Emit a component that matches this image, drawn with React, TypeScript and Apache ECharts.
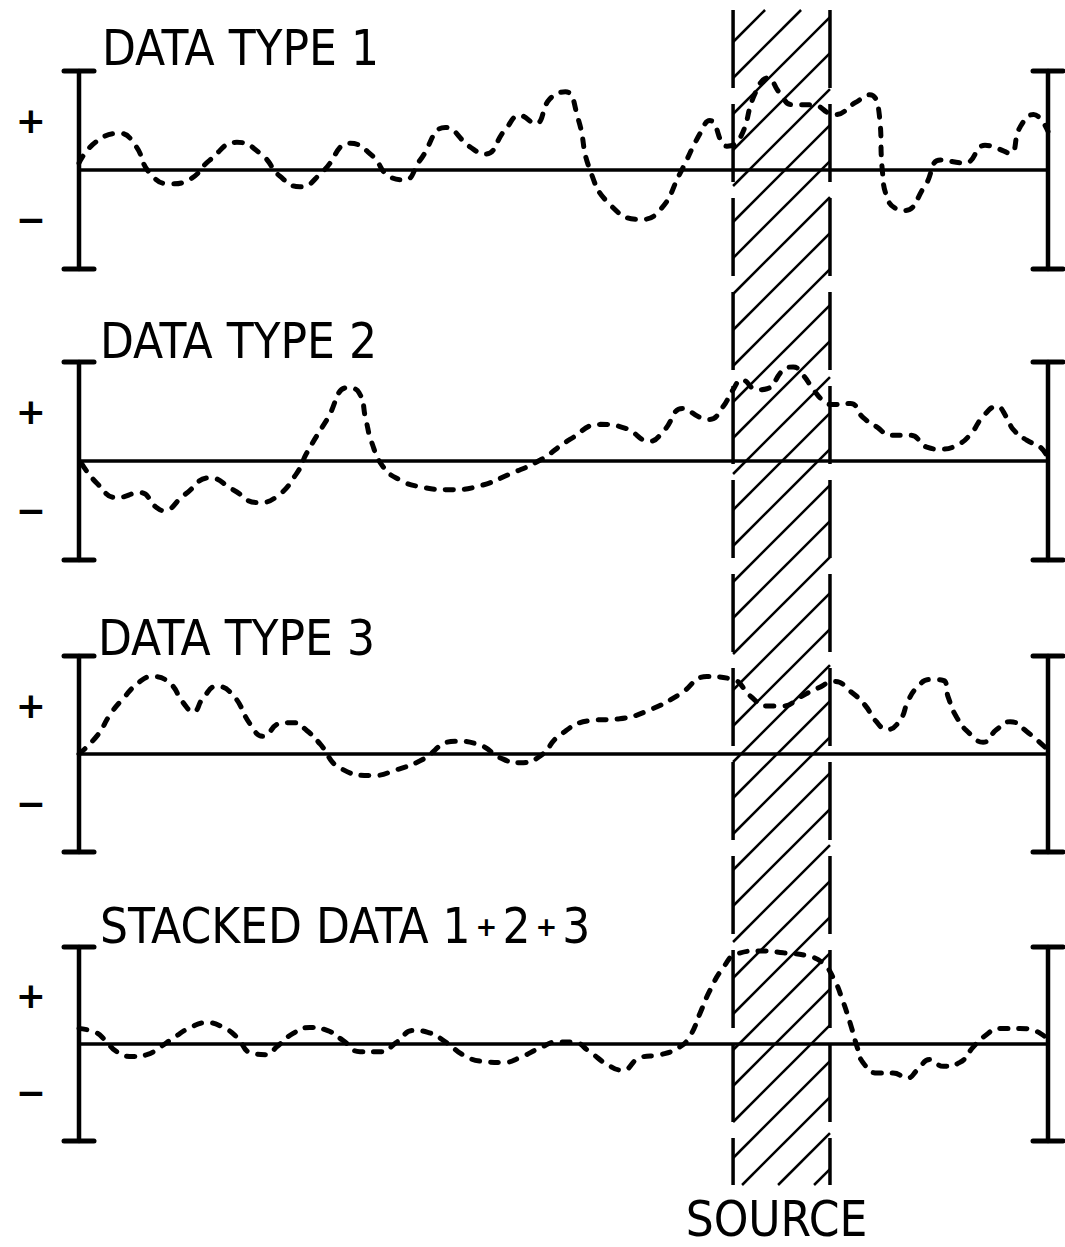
import React, { useEffect, useRef } from 'react';
import * as echarts from 'echarts';

// ---- data (position 0..100 along the profile, amplitude -1..1) ----
const panelTitles = ['DATA TYPE 1', 'DATA TYPE 2', 'DATA TYPE 3', 'STACKED DATA 1{p|+}2{p|+}3'];
const sourceTitle = 'SOURCE';
const sourceRange = [67.5, 77.5];
const bracketPositions = [0, 100];
const signLabels = { plus: '+', minus: '\u2212' };

const dataType1: [number, number][] = [
  [0, 0.07], [1.7, 0.28], [4.2, 0.37], [5.8, 0.25], [7.3, -0.03], [9.4, -0.14], [11.5, -0.09], [13.5, 0.1],
  [16.3, 0.28], [18.9, 0.15], [20.7, -0.06], [22.8, -0.17], [25.1, -0.02], [28.0, 0.27], [30.2, 0.15],
  [32.1, -0.07], [33.6, -0.1], [35.2, 0.1], [37.8, 0.43], [40.4, 0.23], [41.9, 0.16], [44.0, 0.41],
  [45.5, 0.55], [47.1, 0.47], [48.6, 0.72], [50.2, 0.79], [51.5, 0.52], [52.7, 0.01], [54.8, -0.35],
  [57.9, -0.5], [60.0, -0.4], [62.0, -0.04], [64.1, 0.37], [65.1, 0.5], [66.9, 0.24], [68.2, 0.32],
  [69.8, 0.78], [71.1, 0.93], [72.3, 0.78], [73.6, 0.66], [75.6, 0.66], [78.0, 0.56], [80.1, 0.68],
  [81.6, 0.76], [82.6, 0.55], [82.9, 0.0], [83.4, -0.28], [84.3, -0.39], [85.2, -0.41], [87.3, -0.16],
  [88.9, 0.1], [91.4, 0.07], [93.5, 0.25], [94.7, 0.22], [96.1, 0.17], [97.1, 0.43], [98.5, 0.56], [100, 0.39],
];

const dataType2: [number, number][] = [
  [0.3, -0.03], [1.9, -0.23], [3.9, -0.37], [6.3, -0.32], [8.0, -0.47], [8.7, -0.5], [10.9, -0.34],
  [13.5, -0.17], [15.9, -0.29], [18.4, -0.42], [20.4, -0.36], [22.5, -0.12], [23.5, 0.08], [25.6, 0.42],
  [27.7, 0.74], [28.9, 0.69], [29.6, 0.42], [30.2, 0.19], [31.4, -0.06], [33.1, -0.19], [35.2, -0.26],
  [38.3, -0.29], [41.4, -0.25], [44.5, -0.13], [47.6, 0.01], [50.7, 0.22], [53.8, 0.37], [56.4, 0.33],
  [58.9, 0.2], [60.3, 0.3], [62.3, 0.53], [64.1, 0.44], [65.1, 0.42], [66.4, 0.54], [67.5, 0.72],
  [68.4, 0.82], [70.0, 0.72], [71.0, 0.73], [72.7, 0.92], [73.7, 0.95], [74.7, 0.87], [75.8, 0.72],
  [76.8, 0.61], [77.7, 0.57], [79.6, 0.58], [80.9, 0.44], [82.4, 0.34], [83.7, 0.26], [85.8, 0.26],
  [87.5, 0.14], [88.9, 0.12], [90.6, 0.16], [92.0, 0.27], [93.3, 0.45], [94.7, 0.55], [95.8, 0.43],
  [96.4, 0.32], [97.8, 0.21], [99.2, 0.14], [100, 0.03],
];

const dataType3: [number, number][] = [
  [0, 0], [1.9, 0.19], [3.2, 0.4], [4.5, 0.56], [6.3, 0.74], [7.6, 0.79], [9.4, 0.72], [10.7, 0.53],
  [11.8, 0.43], [12.8, 0.57], [14.2, 0.69], [15.9, 0.6], [17.7, 0.3], [19.0, 0.18], [20.7, 0.31],
  [22.1, 0.32], [23.5, 0.24], [24.9, 0.1], [26.9, -0.14], [30.3, -0.22], [32.8, -0.16], [35.2, -0.07],
  [38.8, 0.13], [41.4, 0.09], [43.5, -0.04], [45.5, -0.09], [47.6, -0.02], [49.6, 0.19], [52.7, 0.34],
  [55.8, 0.36], [58.9, 0.45], [62.0, 0.61], [64.8, 0.79], [67.5, 0.76], [69.3, 0.59], [71.0, 0.49],
  [72.7, 0.49], [74.4, 0.58], [76.2, 0.67], [78.0, 0.74], [79.6, 0.64], [81.1, 0.5], [82.2, 0.34],
  [83.4, 0.25], [84.7, 0.34], [85.6, 0.55], [86.5, 0.68], [87.8, 0.76], [89.2, 0.75], [89.7, 0.58],
  [90.6, 0.37], [92.0, 0.2], [93.3, 0.12], [94.7, 0.25], [96.1, 0.33], [97.8, 0.23], [100, 0.04],
];

const dataStacked: [number, number][] = [
  [0, 0.16], [1.7, 0.12], [2.7, 0.04], [3.9, -0.08], [5.6, -0.13], [7.0, -0.11], [8.4, -0.03], [9.7, 0.06],
  [11.5, 0.17], [13.2, 0.22], [14.9, 0.17], [16.3, 0.07], [17.7, -0.09], [19.4, -0.11], [20.4, -0.03],
  [22.1, 0.11], [23.8, 0.17], [25.6, 0.14], [27.2, 0.04], [29.0, -0.08], [31.1, -0.08], [32.8, 0.02],
  [34.5, 0.14], [36.0, 0.12], [38.0, 0.01], [39.6, -0.11], [41.7, -0.18], [43.8, -0.19], [45.5, -0.14],
  [47.6, -0.04], [49.3, 0.02], [51.0, 0.02], [52.7, -0.08], [54.5, -0.21], [56.1, -0.27], [57.9, -0.14],
  [60.0, -0.11], [62.0, -0.03], [63.1, 0.09], [64.1, 0.32], [65.1, 0.55], [66.5, 0.79], [67.9, 0.93],
  [70.3, 0.96], [72.7, 0.94], [75.1, 0.91], [76.8, 0.83], [78.0, 0.65], [78.7, 0.48], [79.6, 0.21],
  [80.3, -0.03], [80.9, -0.19], [82.4, -0.3], [84.0, -0.3], [85.5, -0.35], [86.5, -0.27], [87.8, -0.16],
  [89.2, -0.23], [90.9, -0.19], [92.3, -0.03], [93.3, 0.07], [95.1, 0.16], [97.1, 0.16], [98.5, 0.14],
  [99.5, 0.09], [100, 0.04],
];

const panelData = [dataType1, dataType2, dataType3, dataStacked];

// ---- layout / style ----
const gridTops = [71, 362, 656, 947];
const gridHeights = [198, 198, 196, 194];
const gridLeft = 79;
const gridRight = 17;
const titleLefts = [102, 100, 98, 100];
const titleTops = [24, 317, 614, 902];
const FONT = "'Liberation Sans Narrow', 'Arial Narrow', 'DejaVu Sans Condensed', 'Roboto Condensed', 'Liberation Sans', sans-serif";
const INK = '#000';

export default function App() {
  const ref = useRef<HTMLDivElement>(null);

  useEffect(() => {
    const chart = echarts.init(ref.current!, null, { renderer: 'svg' });

    const grids = panelData.map((_, i) => ({
      left: gridLeft,
      right: gridRight,
      top: gridTops[i],
      height: gridHeights[i],
      containLabel: false,
    }));

    const xAxes = panelData.map((_, i) => ({
      type: 'value',
      gridIndex: i,
      min: 0,
      max: 100,
      axisLine: { show: true, onZero: true, lineStyle: { color: INK, width: 3.5 } },
      axisTick: { show: false },
      axisLabel: { show: false },
      splitLine: { show: false },
    }));

    const yAxes = panelData.map((_, i) => ({
      type: 'value',
      gridIndex: i,
      min: -1,
      max: 1,
      interval: 0.5,
      axisLine: { show: false },
      axisTick: { show: false },
      splitLine: { show: false },
      axisLabel: {
        show: true,
        margin: 33,
        color: INK,
        fontSize: 36,
        fontWeight: 'bold',
        fontFamily: "'DejaVu Sans', sans-serif",
        formatter: (v: number) => (v === 0.5 ? signLabels.plus : v === -0.5 ? signLabels.minus : ''),
      },
    }));

    const curveSeries = panelData.map((d, i) => ({
      type: 'line',
      name: panelTitles[i],
      xAxisIndex: i,
      yAxisIndex: i,
      data: d,
      showSymbol: false,
      symbol: 'none',
      smooth: 0.5,
      lineStyle: { color: INK, width: 5, type: [8, 11], cap: 'round' },
      z: 3,
    }));

    const bracketSeries = panelData.map((_, i) => ({
      type: 'custom',
      xAxisIndex: i,
      yAxisIndex: i,
      clip: false,
      silent: true,
      data: bracketPositions.map((x) => [x, 0]),
      encode: { x: 0, y: 1 },
      renderItem: (_params: any, api: any) => {
        const x = api.value(0);
        const t = api.coord([x, 1]);
        const b = api.coord([x, -1]);
        const s = { stroke: INK, lineWidth: 4.5, lineCap: 'round' };
        const cap = 15;
        return {
          type: 'group',
          children: [
            { type: 'line', shape: { x1: t[0], y1: t[1], x2: b[0], y2: b[1] }, style: s },
            { type: 'line', shape: { x1: t[0] - cap, y1: t[1], x2: t[0] + cap, y2: t[1] }, style: { ...s, lineWidth: 5 } },
            { type: 'line', shape: { x1: b[0] - cap, y1: b[1], x2: b[0] + cap, y2: b[1] }, style: { ...s, lineWidth: 5 } },
          ],
        };
      },
      z: 4,
    }));

    const titles = panelTitles.map((t, i) => ({
      text: t,
      left: titleLefts[i],
      top: titleTops[i],
      padding: 0,
      textStyle: {
        fontFamily: FONT,
        fontSize: 49,
        fontWeight: 'normal',
        color: INK,
        rich: {
          p: {
            fontSize: 26,
            fontWeight: 'bold',
            fontFamily: "'DejaVu Sans', sans-serif",
            color: INK,
            padding: [0, 5, 0, 5],
          },
        },
      },
    }));

    chart.setOption({
      animation: false,
      backgroundColor: '#fff',
      title: titles,
      grid: grids,
      xAxis: xAxes,
      yAxis: yAxes,
      series: [...curveSeries, ...bracketSeries],
    });

    // source band (hatched, dashed borders) spanning all panels
    const pL = chart.convertToPixel({ gridIndex: 0 }, [sourceRange[0], 0]) as number[];
    const pR = chart.convertToPixel({ gridIndex: 0 }, [sourceRange[1], 0]) as number[];
    const xL = pL[0];
    const xR = pR[0];
    const top = gridTops[0] - 61;
    const bottom = gridTops[3] + gridHeights[3] + 44;
    const w = xR - xL;
    const spacing = 36;
    const hatch: any[] = [];
    for (let yL = top + 32 - 4 * spacing; yL - w <= bottom + spacing; yL += spacing) {
      const t0 = Math.max(0, yL - bottom);
      const t1 = Math.min(w, yL - top);
      if (t1 - t0 > 2) {
        hatch.push({
          type: 'line',
          silent: true,
          shape: { x1: xL + t0, y1: yL - t0, x2: xL + t1, y2: yL - t1 },
          style: { stroke: INK, lineWidth: 2.5 },
          z: 2,
        });
      }
    }
    const border = (x: number) => ({
      type: 'line',
      silent: true,
      shape: { x1: x, y1: top, x2: x, y2: bottom },
      style: { stroke: INK, lineWidth: 3.5, lineDash: [78, 16] },
      z: 2,
    });

    chart.setOption({
      graphic: {
        elements: [
          ...hatch,
          border(xL),
          border(xR),
          {
            type: 'text',
            silent: true,
            x: (xL + xR) / 2 - 5,
            y: bottom + 13,
            style: {
              text: sourceTitle,
              fill: INK,
              font: `normal 49px ${FONT}`,
              lineHeight: 42,
              textAlign: 'center',
              textVerticalAlign: 'top',
            },
          },
        ],
      },
    });

    return () => chart.dispose();
  }, []);

  return (
    <div
      ref={ref}
      style={{ position: 'absolute', left: 0, top: 0, width: 1065, height: 1247, background: '#fff' }}
    />
  );
}
